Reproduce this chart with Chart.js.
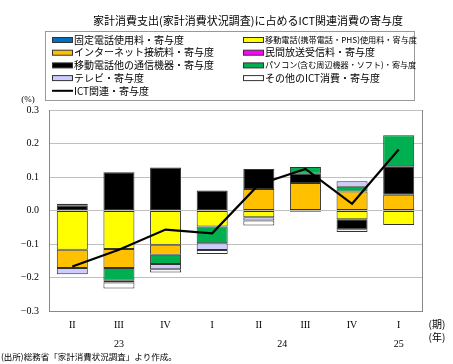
<!DOCTYPE html>
<html>
<head>
<meta charset="utf-8">
<script src="https://cdn.jsdelivr.net/npm/chart.js@4.4.1/dist/chart.umd.min.js"></script>
<style>
  html, body { margin: 0; padding: 0; background: #fff; }
  #wrap { width: 453px; height: 364px; }
</style>
</head>
<body>
<div id="wrap"><canvas id="c"></canvas></div>
<script>
// quarters and years
const quarters = ['II', 'III', 'IV', 'I', 'II', 'III', 'IV', 'I'];
const years = ['23', '24', '25'];
const yearSpans = [[0, 2], [3, 6], [7, 7]];

// contributions (%)
const koteiDenwa  = [0, 0, 0, 0, 0, 0, 0, 0];
const keitaiRyo   = [-0.117, -0.115, -0.102, -0.048, -0.020, -0.004, -0.026, -0.043];
const internet    = [-0.055, -0.057, -0.030, 0, 0.064, 0.082, 0.057, 0.047];
const minpou      = [0, 0, 0, 0, 0, 0, 0, 0];
const tsushinKiki = [0.014, 0.114, 0.128, 0.060, 0.060, 0.028, -0.030, 0.085];
const pasokon     = [0, -0.038, -0.028, -0.050, 0, 0.020, 0.014, 0.093];
const terebi      = [-0.018, -0.005, -0.015, -0.020, -0.010, 0, 0.016, 0];
const sonota      = [0.006, -0.018, -0.010, -0.012, -0.015, 0, -0.008, 0];
const ictTotal    = [-0.167, -0.117, -0.057, -0.068, 0.078, 0.124, 0.020, 0.182];

const titleText = '家計消費支出(家計消費状況調査)に占めるICT関連消費の寄与度';
const sourceText = '(出所)総務省「家計消費状況調査」より作成。';

const SERIF = '"Liberation Serif", "Noto Sans CJK JP", serif';
const JP = '"Noto Sans CJK JP", "Liberation Serif", sans-serif';

function bar(label, data, color) {
    return {
        type: 'bar',
        label: label,
        data: data,
        backgroundColor: color,
        borderColor: '#333',
        borderWidth: 1,
        borderSkipped: false,
        stack: 'bars',
        order: 1,
        barPercentage: 0.665,
        categoryPercentage: 1
    };
}

const datasets = [
    bar('固定電話使用料・寄与度', koteiDenwa, '#0070c0'),
    bar('移動電話(携帯電話・PHS)使用料・寄与度', keitaiRyo, '#ffff00'),
    bar('インターネット接続料・寄与度', internet, '#ffc000'),
    bar('民間放送受信料・寄与度', minpou, '#ff00ff'),
    bar('移動電話他の通信機器・寄与度', tsushinKiki, '#000000'),
    bar('パソコン(含む周辺機器・ソフト)・寄与度', pasokon, '#00b050'),
    bar('テレビ・寄与度', terebi, '#ccccff'),
    bar('その他のICT消費・寄与度', sonota, '#ffffff'),
    {
        type: 'line',
        label: 'ICT関連・寄与度',
        data: ictTotal,
        borderColor: '#000',
        backgroundColor: '#000',
        borderWidth: 2.2,
        pointRadius: 0,
        tension: 0,
        stack: 'ict',
        order: 0
    }
];

// title, legend box and extra labels
const extras = {
    id: 'extras',
    afterDraw(chart) {
        const ctx = chart.ctx;
        const area = chart.chartArea;
        const xs = chart.scales.x;
        ctx.save();

        // right edge of plot frame
        ctx.strokeStyle = '#888';
        ctx.lineWidth = 1;
        ctx.beginPath();
        ctx.moveTo(Math.round(area.right) + 0.5, area.top);
        ctx.lineTo(Math.round(area.right) + 0.5, area.bottom);
        ctx.stroke();

        ctx.fillStyle = '#000';
        ctx.textBaseline = 'middle';

        // title
        ctx.font = '11px ' + JP;
        ctx.textAlign = 'center';
        ctx.fillText(titleText, 248, 21);

        // legend box
        ctx.strokeStyle = '#999';
        ctx.strokeRect(45.5, 31.5, 369, 69);
        const colX = [52, 243];
        ctx.textAlign = 'left';
        datasets.forEach((ds, i) => {
            const col = i % 2, row = Math.floor(i / 2);
            const x = colX[col], y = 40 + row * 12.7;
            if (ds.type === 'line') {
                ctx.strokeStyle = '#000';
                ctx.lineWidth = 2;
                ctx.beginPath();
                ctx.moveTo(x, y);
                ctx.lineTo(x + 21, y);
                ctx.stroke();
            } else {
                ctx.fillStyle = ds.backgroundColor;
                ctx.fillRect(x, y - 2.5, 21, 5);
                ctx.strokeStyle = '#333';
                ctx.lineWidth = 1;
                ctx.strokeRect(x + 0.5, y - 2.5, 20, 5);
            }
            ctx.fillStyle = '#000';
            let size = 10;
            ctx.font = size + 'px ' + JP;
            const w = ctx.measureText(ds.label).width;
            const maxW = col === 1 ? 152 : 160;
            if (w > maxW) {
                size = Math.max(7.5, size * maxW / w);
                ctx.font = size.toFixed(1) + 'px ' + JP;
            }
            ctx.fillText(ds.label, x + 22, y, maxW);
        });

        // unit
        ctx.font = '9px ' + SERIF;
        ctx.textAlign = 'center';
        ctx.fillText('(%)', 28, 100);

        // years under quarters
        ctx.font = '10px ' + SERIF;
        years.forEach((yr, i) => {
            const [a, b] = yearSpans[i];
            const cx = (xs.getPixelForValue(a) + xs.getPixelForValue(b)) / 2;
            ctx.fillText(yr, cx, 344);
        });
        ctx.font = '10px ' + JP;
        ctx.fillText('(期)', 437, 324);
        ctx.fillText('(年)', 437, 337);

        // source
        ctx.font = '8.5px ' + JP;
        ctx.textAlign = 'left';
        ctx.fillText(sourceText, 1, 357);
        ctx.restore();
    }
};

const config = {
    data: { labels: quarters, datasets: datasets },
    options: {
        responsive: true,
        maintainAspectRatio: false,
        animation: false,
        layout: { padding: { top: 110, right: 31, left: 0, bottom: 0 } },
        plugins: { legend: { display: false }, title: { display: false }, tooltip: { enabled: false } },
        scales: {
            x: {
                stacked: true,
                grid: { display: false, drawTicks: false },
                border: { color: '#888' },
                ticks: { color: '#000', font: { family: SERIF, size: 10 }, padding: 8 },
                afterFit: s => { s.height = 53; }
            },
            y: {
                stacked: true,
                min: -0.3,
                max: 0.3,
                grid: { color: '#c0c0c0', drawTicks: false },
                border: { color: '#888' },
                ticks: {
                    stepSize: 0.1,
                    color: '#000',
                    padding: 10,
                    font: { family: SERIF, size: 10 },
                    callback: v => {
                        const r = Math.round(v * 10) / 10;
                        if (r === 0) return '0.0';
                        return r.toFixed(1).replace('-', '−');
                    }
                },
                afterFit: s => { s.width = 49; }
            }
        }
    },
    plugins: [extras]
};

let ctx = document.getElementById('c').getContext('2d');
new Chart(ctx, config);
</script>
</body>
</html>
